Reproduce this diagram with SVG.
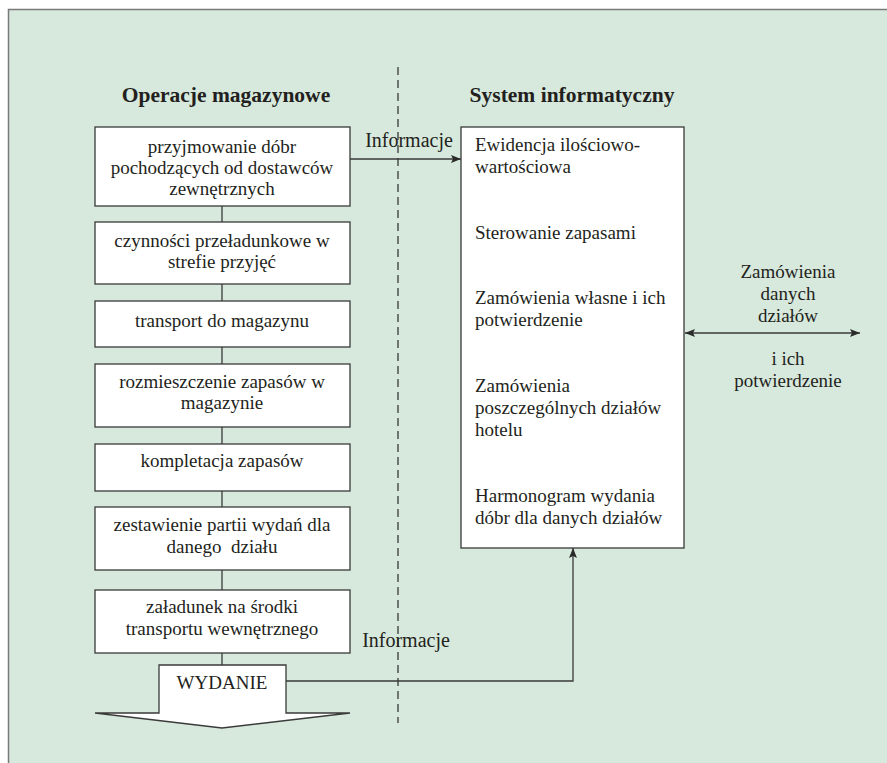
<svg xmlns="http://www.w3.org/2000/svg" width="887" height="763" viewBox="0 0 887 763">
<style>
  text { font-family: 'Liberation Serif', 'DejaVu Serif', serif; font-size: 19px; fill: #231f20; }
  .hdr { font-size: 21.5px; font-weight: bold; text-anchor: middle; }
  .c { text-anchor: middle; }
  .inf { font-size: 20px; }
  .box { fill: #ffffff; stroke: #3a3a3a; stroke-width: 1.3; }
  .ln { fill: none; stroke: #3a3a3a; stroke-width: 1.3; }
</style>
<defs>
  <marker id="ah" viewBox="0 0 10 10" refX="10" refY="5" markerWidth="10" markerHeight="10" markerUnits="userSpaceOnUse" orient="auto-start-reverse">
    <path d="M0,1 L10,5 L0,9 L2,5 Z" fill="#2a2a2a"/>
  </marker>
</defs>
<rect x="0" y="0" width="887" height="763" fill="#ffffff"/>
<rect x="8" y="9" width="879" height="754" fill="#d7e9dc"/>
<path d="M8.5,763 V9.5 H887" fill="none" stroke="#7a7a7a" stroke-width="1.5"/>

<line x1="398" y1="67" x2="398" y2="723" stroke="#2a2a2a" stroke-width="1.2" stroke-dasharray="8,5"/>

<text class="hdr" x="226" y="102">Operacje magazynowe</text>
<text class="hdr" x="572" y="102">System informatyczny</text>

<g id="connectors">
  <path class="ln" d="M222,206 V222 M222,284 V301 M222,347 V364 M222,427 V444 M222,491 V507 M222,570 V590 M222,653 V665"/>
  <line class="ln" x1="350" y1="159" x2="461" y2="159" marker-end="url(#ah)"/>
  <path class="ln" d="M286,681 H573 V548" marker-end="url(#ah)"/>
  <line class="ln" x1="685" y1="333" x2="860" y2="333" marker-start="url(#ah)" marker-end="url(#ah)"/>
  <text x="409" y="147" class="c inf">Informacje</text>
  <text x="406" y="647" class="c inf">Informacje</text>
  <text x="788" y="278" class="c">Zamówienia</text>
  <text x="788" y="300" class="c">danych</text>
  <text x="788" y="322" class="c">działów</text>
  <text x="788" y="365" class="c">i ich</text>
  <text x="788" y="387" class="c">potwierdzenie</text>
</g>

<g id="n1"><rect class="box" x="95" y="127" width="255" height="79"/>
  <text class="c" x="222" y="153">przyjmowanie dóbr</text>
  <text class="c" x="222" y="174">pochodzących od dostawców</text>
  <text class="c" x="222" y="195">zewnętrznych</text></g>
<g id="n2"><rect class="box" x="95" y="222" width="255" height="62"/>
  <text class="c" x="222" y="247">czynności przeładunkowe w</text>
  <text class="c" x="222" y="268">strefie przyjęć</text></g>
<g id="n3"><rect class="box" x="95" y="301" width="255" height="46"/>
  <text class="c" x="222" y="327">transport do magazynu</text></g>
<g id="n4"><rect class="box" x="95" y="364" width="255" height="63"/>
  <text class="c" x="222" y="388">rozmieszczenie zapasów w</text>
  <text class="c" x="222" y="409">magazynie</text></g>
<g id="n5"><rect class="box" x="95" y="444" width="255" height="47"/>
  <text class="c" x="222" y="467">kompletacja zapasów</text></g>
<g id="n6"><rect class="box" x="95" y="507" width="255" height="63"/>
  <text class="c" x="222" y="531">zestawienie partii wydań dla</text>
  <text class="c" x="222" y="553" xml:space="preserve">danego  działu</text></g>
<g id="n7"><rect class="box" x="95" y="590" width="255" height="63"/>
  <text class="c" x="222" y="613">załadunek na środki</text>
  <text class="c" x="222" y="635">transportu wewnętrznego</text></g>
<g id="n8"><path class="box" d="M159,665 H286 V713 H350 L222,728 L95,713 H159 Z"/>
  <text class="c" x="222" y="689">WYDANIE</text></g>

<g id="sys"><rect class="box" x="461" y="127" width="223" height="421"/>
  <text x="475" y="151">Ewidencja ilościowo-</text>
  <text x="475" y="173">wartościowa</text>
  <text x="475" y="239">Sterowanie zapasami</text>
  <text x="475" y="304">Zamówienia własne i ich</text>
  <text x="475" y="326">potwierdzenie</text>
  <text x="475" y="392">Zamówienia</text>
  <text x="475" y="414">poszczególnych działów</text>
  <text x="475" y="436">hotelu</text>
  <text x="475" y="502">Harmonogram wydania</text>
  <text x="475" y="524">dóbr dla danych działów</text></g>
</svg>
